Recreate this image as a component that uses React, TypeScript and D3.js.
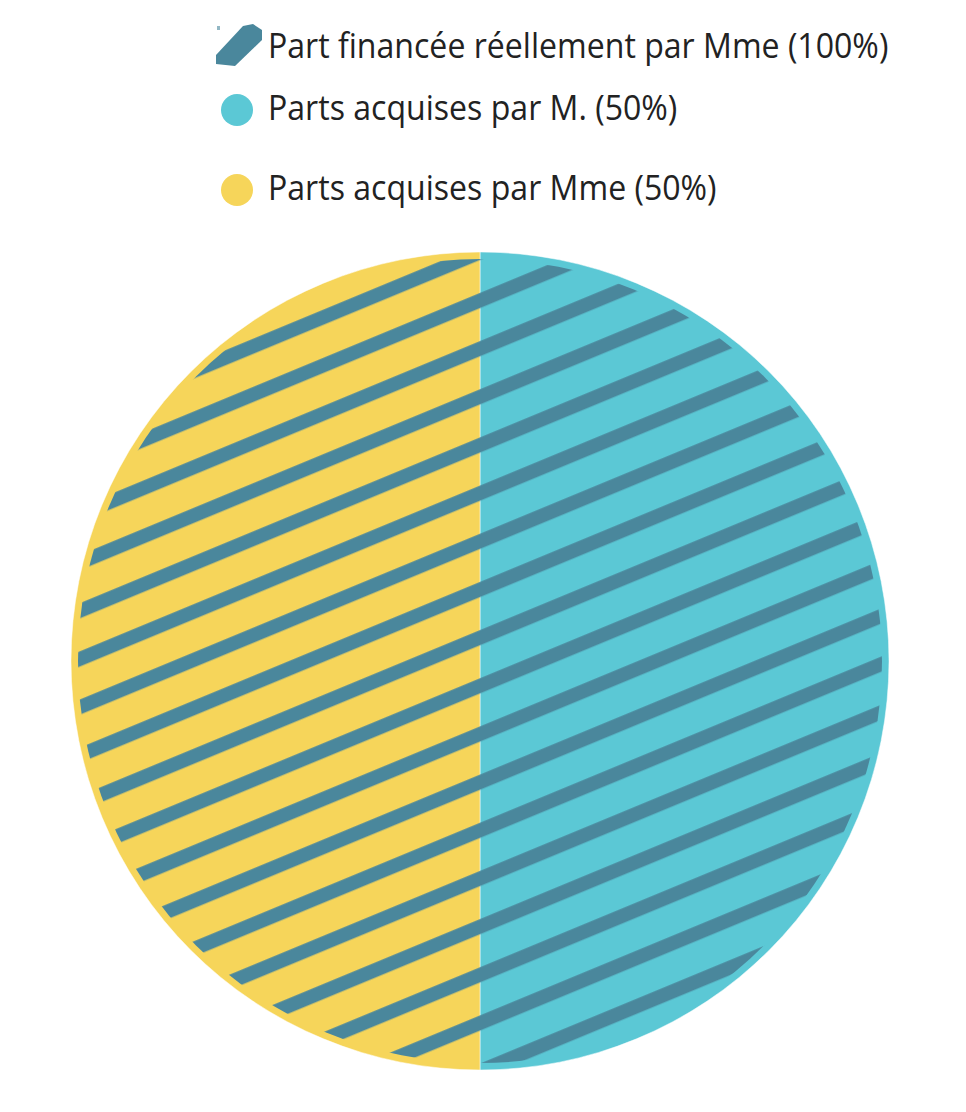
import React, { useEffect, useRef } from 'react';
import * as d3 from 'd3';

// Base pie: who acquired the shares
const shareLabels = ['Parts acquises par M. (50%)', 'Parts acquises par Mme (50%)'];
const shareValues = [50, 50];
const shareColors = ['#5bc8d5', '#f6d55a'];

// Overlay pie: who actually financed them (striped)
const financedLabel = 'Part financée réellement par Mme (100%)';
const financedValues = [100];
const stripeColor = '#4a879c';

const WIDTH = 966;
const HEIGHT = 1112;

const App: React.FC = () => {
  const svgRef = useRef<SVGSVGElement>(null);

  useEffect(() => {
    if (!svgRef.current) return;
    const svg = d3.select(svgRef.current);
    svg.selectAll('*').remove();

    const cx = 480;
    const cy = 661;
    const r = 409;

    // --- stripe pattern (user space is the pie group, origin at the centre) ---
    const defs = svg.append('defs');
    const period = 44.5;
    const stripeW = 14;
    const pat = defs.append('pattern')
      .attr('id', 'stripes')
      .attr('patternUnits', 'userSpaceOnUse')
      .attr('width', 200)
      .attr('height', period)
      .attr('patternTransform', 'rotate(-22.5)');
    pat.append('rect')
      .attr('x', 0)
      .attr('y', 23 - stripeW / 2)
      .attr('width', 200)
      .attr('height', stripeW)
      .attr('fill', stripeColor);

    const pie = d3.pie<number>().sort(null).value(d => d);
    const arc = d3.arc<d3.PieArcDatum<number>>().innerRadius(0).outerRadius(r);
    // the striped overlay sits a little inside the base pie
    const arcInner = d3.arc<d3.PieArcDatum<number>>().innerRadius(0).outerRadius(r - 7);

    const g = svg.append('g').attr('transform', `translate(${cx},${cy})`);

    g.selectAll('path.share')
      .data(pie(shareValues))
      .join('path')
      .attr('class', 'share')
      .attr('d', arc)
      .attr('fill', (d, i) => shareColors[i])
      .attr('stroke', '#ffffff')
      .attr('stroke-opacity', 0.5)
      .attr('stroke-width', 1);

    g.selectAll('path.financed')
      .data(pie(financedValues))
      .join('path')
      .attr('class', 'financed')
      .attr('d', arcInner)
      .attr('fill', 'url(#stripes)');

    // --- legend ---
    const lx = 237;
    const tx = 268;
    const squeeze = 0.93;
    const legend = svg.append('g').attr('font-family', '"Open Sans", sans-serif')
      .attr('font-size', 34.5).attr('fill', '#222');

    // pattern symbol
    legend.append('path')
      .attr('d', `M${lx - 21},${64} L${lx - 2},${66} L${lx + 25},${40} L${lx + 25},${30} L${lx + 16},${24} L${lx + 6},${26} L${lx - 21},${55} Z`)
      .attr('fill', stripeColor);
    legend.append('rect')
      .attr('x', lx - 20).attr('y', 26).attr('width', 3).attr('height', 4)
      .attr('fill', stripeColor).attr('opacity', 0.6);
    legend.append('text')
      .attr('transform', `translate(${tx},58) scale(${squeeze},1)`)
      .text(financedLabel);

    const rows = [120, 200];
    shareLabels.forEach((lab, i) => {
      legend.append('circle')
        .attr('cx', lx).attr('cy', rows[i] - 10).attr('r', 16)
        .attr('fill', shareColors[i]);
      legend.append('text')
        .attr('transform', `translate(${tx},${rows[i]}) scale(${squeeze},1)`)
        .text(lab);
    });
  }, []);

  return (
    <svg
      ref={svgRef}
      width={WIDTH}
      height={HEIGHT}
      style={{ position: 'absolute', left: 0, top: 0, background: '#fff' }}
    />
  );
};

export default App;
